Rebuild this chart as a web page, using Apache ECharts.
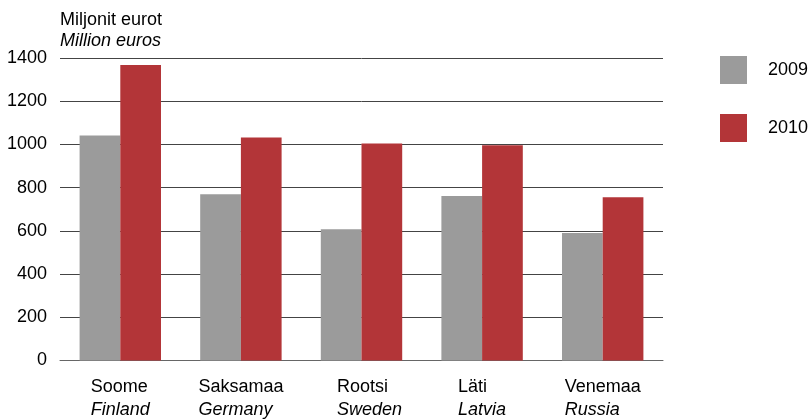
<!DOCTYPE html>
<html>
<head>
<meta charset="utf-8">
<script src="https://cdn.jsdelivr.net/npm/echarts@6/dist/echarts.min.js"></script>
<style>html,body{margin:0;padding:0;background:#fff;}#c{width:808px;height:419px;}</style>
</head>
<body>
<div id="c"></div>
<script>
const categoriesEt = ['Soome', 'Saksamaa', 'Rootsi', 'Läti', 'Venemaa'];
const categoriesEn = ['Finland', 'Germany', 'Sweden', 'Latvia', 'Russia'];
const seriesNames = ['2009', '2010'];
const values2009 = [1041, 769, 608, 761, 590];
const values2010 = [1368, 1032, 1004, 996, 755];
const yTicks = [0, 200, 400, 600, 800, 1000, 1200, 1400];
const unitEt = 'Miljonit eurot';
const unitEn = 'Million euros';

const FONT = '"Liberation Sans", Arial, sans-serif';
const chart = echarts.init(document.getElementById('c'), null, {renderer: 'canvas'});
chart.setOption({
  animation: false,
  backgroundColor: '#fff',
  textStyle: {fontFamily: FONT, color: '#000'},
  grid: {left: 60, right: 145, top: 58, bottom: 57, containLabel: false},
  legend: {
    orient: 'vertical',
    left: 715,
    top: 51,
    itemWidth: 27,
    itemHeight: 28,
    itemGap: 30,
    icon: 'rect',
    data: seriesNames,
    textStyle: {fontFamily: FONT, fontSize: 18, color: '#000', padding: [0, 0, 0, 16]}
  },
  graphic: [
    {type: 'text', left: 60, top: 11, style: {text: unitEt, font: '18px ' + FONT, fill: '#000'}},
    {type: 'text', left: 60, top: 32, style: {text: unitEn, font: 'italic 18px ' + FONT, fill: '#000'}}
  ],
  xAxis: {
    type: 'category',
    data: categoriesEt.map((c, i) => c + '|' + categoriesEn[i]),
    axisLine: {show: true, lineStyle: {color: '#666', width: 1}},
    axisTick: {show: false},
    axisLabel: {
      margin: 15,
      interval: 0,
      formatter: function (v, idx) {
        const p = v.split('|');
        const s = idx === 2 ? 'Shift' : '';
        return '{a' + s + '|' + p[0] + '}\n{b' + s + '|' + p[1] + '}';
      },
      rich: {
        a: {fontFamily: FONT, fontSize: 18, color: '#000', lineHeight: 23, align: 'left'},
        b: {fontFamily: FONT, fontSize: 18, color: '#000', lineHeight: 23, fontStyle: 'italic', align: 'left'},
        aShift: {fontFamily: FONT, fontSize: 18, color: '#000', lineHeight: 23, align: 'left', padding: [0, 0, 0, 16]},
        bShift: {fontFamily: FONT, fontSize: 18, color: '#000', lineHeight: 23, fontStyle: 'italic', align: 'left', padding: [0, 0, 0, 16]}
      }
    }
  },
  yAxis: {
    type: 'value',
    min: yTicks[0],
    max: yTicks[yTicks.length - 1],
    interval: yTicks[1] - yTicks[0],
    axisLine: {show: false},
    axisTick: {show: false},
    axisLabel: {margin: 13, fontFamily: FONT, fontSize: 18, color: '#000', formatter: function (v) { return String(v); }},
    splitLine: {show: true, lineStyle: {color: '#444', width: 1}}
  },
  series: [
    {name: seriesNames[0], type: 'bar', data: values2009, barGap: '0%', barCategoryGap: '32.5%', itemStyle: {color: '#9B9B9B'}},
    {name: seriesNames[1], type: 'bar', data: values2010, barGap: '0%', barCategoryGap: '32.5%', itemStyle: {color: '#B33538'}}
  ]
});
</script>
</body>
</html>
